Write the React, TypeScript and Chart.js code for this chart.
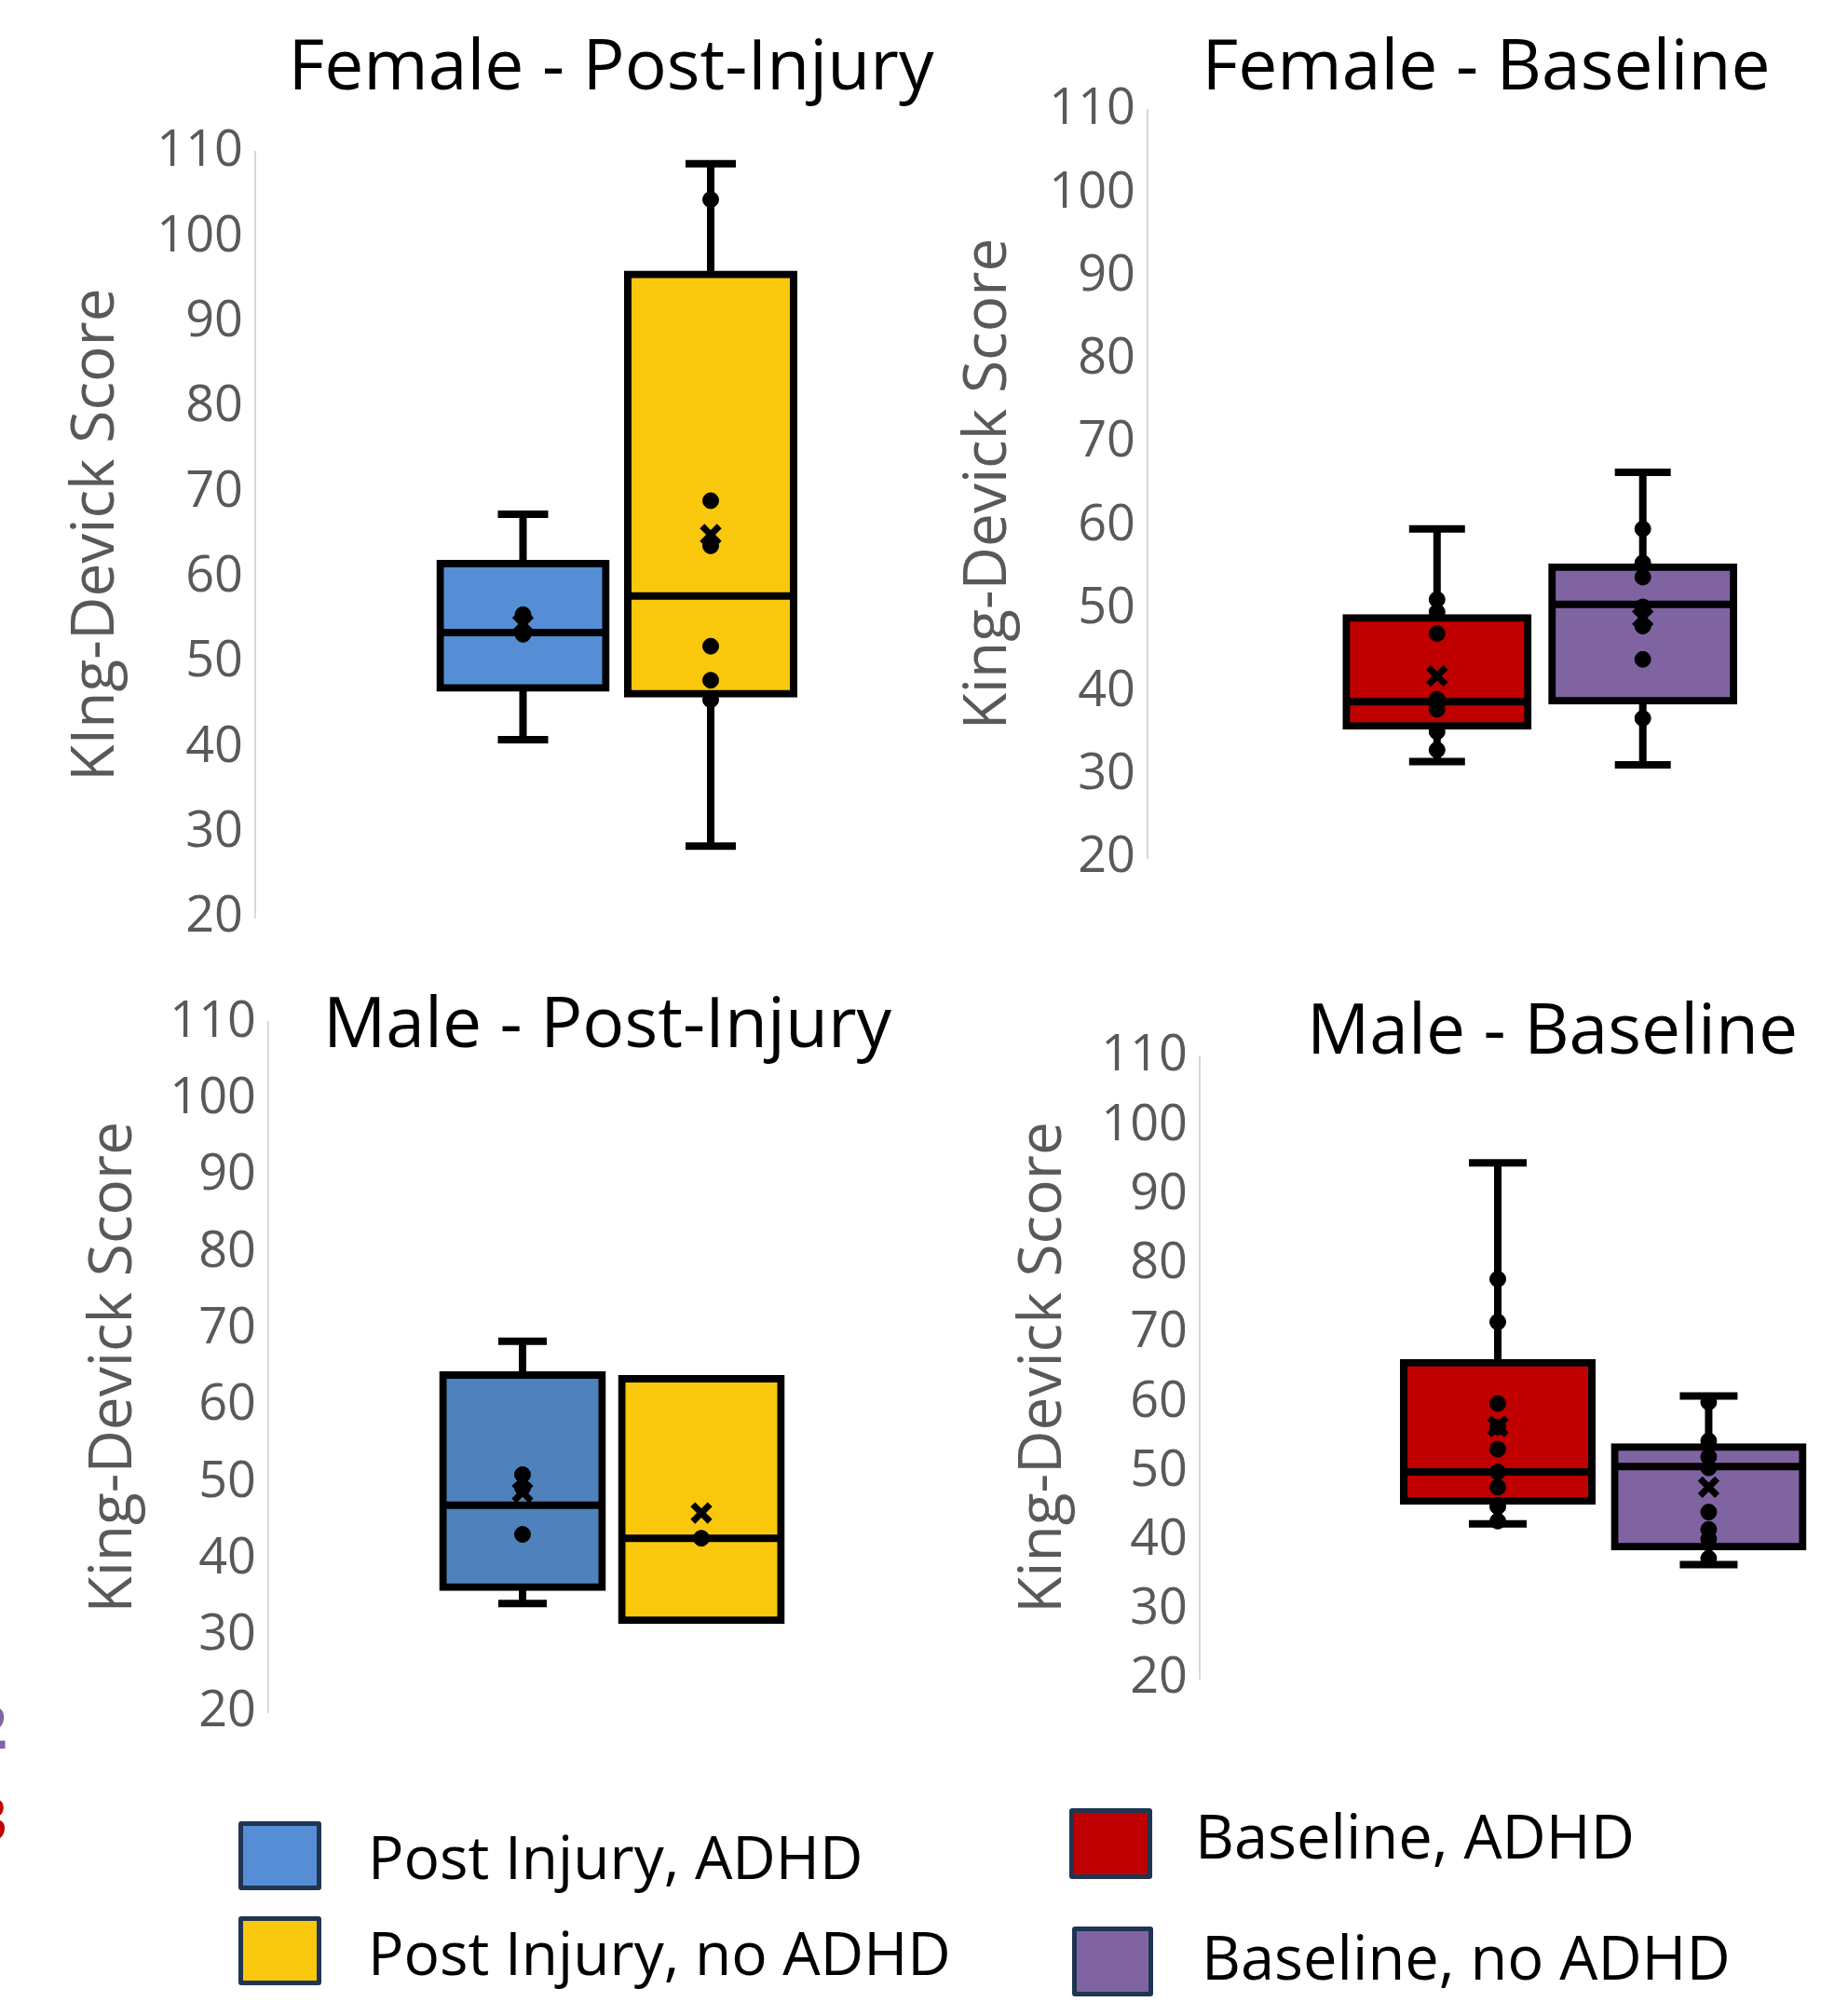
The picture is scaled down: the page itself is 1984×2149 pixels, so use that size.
import React, { useEffect, useRef } from 'react';
import { Chart, registerables } from 'chart.js';

Chart.register(...registerables);

const FONT = "'Open Sans', 'Noto Sans', sans-serif";

// ---- categories (group positions on the hidden linear x axis) ----
const GROUPS = [1, 2];
const GROUP_LABELS = ['ADHD', 'no ADHD'];

// ---- panel titles / axis titles ----
const PANEL_TITLES = ['Female - Post-Injury', 'Female - Baseline', 'Male - Post-Injury', 'Male - Baseline'];
const Y_TITLES = ['KIng-Devick Score', 'King-Devick Score', 'King-Devick Score', 'King-Devick Score'];
const Y_MIN = 20;
const Y_MAX = 110;
const Y_STEP = 10;

// ---- Female - Post-Injury ----
const femalePostQ1 = [47.0, 46.3];
const femalePostMedian = [53.5, 57.8];
const femalePostQ3 = [61.6, 95.6];
const femalePostLow = [40.9, 28.4];
const femalePostHigh = [67.4, 108.6];
const femalePostMean = [54.5, 65.0];
const femalePostPointsAdhd = [55.6, 53.3];
const femalePostPointsNoAdhd = [104.4, 69.0, 63.7, 51.9, 47.9, 45.6];

// ---- Female - Baseline ----
const femaleBaseQ1 = [35.9, 38.9];
const femaleBaseMedian = [38.8, 50.5];
const femaleBaseQ3 = [48.9, 55.0];
const femaleBaseLow = [31.6, 31.2];
const femaleBaseHigh = [59.6, 66.4];
const femaleBaseMean = [41.9, 48.9];
const femaleBasePointsAdhd = [51.1, 49.6, 47.0, 39.1, 37.9, 35.2, 33.0];
const femaleBasePointsNoAdhd = [59.6, 55.5, 53.8, 50.2, 47.9, 43.9, 36.8];

// ---- Male - Post-Injury ----
const malePostQ1 = [36.3, 32.0];
const malePostMedian = [47.0, 42.7];
const malePostQ3 = [64.0, 63.5];
const malePostLow: (number | null)[] = [34.2, null];
const malePostHigh: (number | null)[] = [68.4, null];
const malePostMean = [48.7, 46.0];
const malePostPointsAdhd = [51.0, 49.3, 43.2];
const malePostPointsNoAdhd = [42.7];

// ---- Male - Baseline ----
const maleBaseQ1 = [45.7, 39.1];
const maleBaseMedian = [49.9, 50.7];
const maleBaseQ3 = [65.7, 53.5];
const maleBaseLow = [42.4, 36.5];
const maleBaseHigh = [94.6, 60.9];
const maleBaseMean = [56.5, 47.7];
const maleBasePointsAdhd = [77.8, 71.6, 59.8, 56.4, 53.2, 49.9, 47.7, 44.9, 42.8];
const maleBasePointsNoAdhd = [60.0, 54.4, 52.1, 50.5, 44.1, 41.6, 40.2, 37.4];

// ---- colours ----
const FEMALE_POST_COLORS = ['#558ED5', '#F9C70C'];
const MALE_POST_COLORS = ['#4F81BD', '#F9C70C'];
const BASE_COLORS = ['#C00000', '#8064A2'];

// ---- legend ----
const LEGEND_LABELS = ['Post Injury, ADHD', 'Post Injury, no ADHD', 'Baseline, ADHD', 'Baseline, no ADHD'];
const LEGEND_COLORS = ['#558ED5', '#F9C70C', '#C00000', '#8064A2'];

type Panel = {
  title: string;
  yTitle: string;
  q1: number[];
  median: number[];
  q3: number[];
  low: (number | null)[];
  high: (number | null)[];
  mean: number[];
  points: number[][];
  colors: string[];
  // layout
  left: number;
  top: number;
  width: number;
  height: number;
  yAxisWidth: number;
  xMin: number;
  xMax: number;
  titlePad: { top: number; bottom: number };
  boxWidth: number;
  capHalf: number;
};

const BOTTOM_PAD = 60;
const LINE_W = 8;
const HALF_LINE = LINE_W / 2;

const PANELS: Panel[] = [
  {
    title: PANEL_TITLES[0], yTitle: Y_TITLES[0],
    q1: femalePostQ1, median: femalePostMedian, q3: femalePostQ3, low: femalePostLow, high: femalePostHigh,
    mean: femalePostMean, points: [femalePostPointsAdhd, femalePostPointsNoAdhd], colors: FEMALE_POST_COLORS,
    left: 65, top: 0, width: 973, height: 985 + BOTTOM_PAD, yAxisWidth: 209, xMin: -0.4268, xMax: 3.3648,
    titlePad: { top: 30, bottom: 43 }, boxWidth: 178, capHalf: 27,
  },
  {
    title: PANEL_TITLES[1], yTitle: Y_TITLES[1],
    q1: femaleBaseQ1, median: femaleBaseMedian, q3: femaleBaseQ3, low: femaleBaseLow, high: femaleBaseHigh,
    mean: femaleBaseMean, points: [femaleBasePointsAdhd, femaleBasePointsNoAdhd], colors: BASE_COLORS,
    left: 1023, top: 0, width: 936, height: 921 + BOTTOM_PAD, yAxisWidth: 209, xMin: -0.407, xMax: 2.8841,
    titlePad: { top: 30, bottom: -2 }, boxWidth: 195, capHalf: 30,
  },
  {
    title: PANEL_TITLES[2], yTitle: Y_TITLES[2],
    q1: malePostQ1, median: malePostMedian, q3: malePostQ3, low: malePostLow, high: malePostHigh,
    mean: malePostMean, points: [malePostPointsAdhd, malePostPointsNoAdhd], colors: MALE_POST_COLORS,
    left: 84, top: 1040, width: 932, height: 1838 - 1040 + BOTTOM_PAD, yAxisWidth: 204, xMin: -0.4219, xMax: 3.3698,
    titlePad: { top: 18, bottom: -50.6 }, boxWidth: 171, capHalf: 26,
  },
  {
    title: PANEL_TITLES[3], yTitle: Y_TITLES[3],
    q1: maleBaseQ1, median: maleBaseMedian, q3: maleBaseQ3, low: maleBaseLow, high: maleBaseHigh,
    mean: maleBaseMean, points: [maleBasePointsAdhd, maleBasePointsNoAdhd], colors: BASE_COLORS,
    left: 1082, top: 1040, width: 963, height: 1802 - 1040 + BOTTOM_PAD, yAxisWidth: 206, xMin: -0.4134, xMax: 2.93,
    titlePad: { top: 25, bottom: -21 }, boxWidth: 202, capHalf: 31,
  },
];

function buildConfig(p: Panel): any {
  const datasets: any[] = [];
  GROUPS.forEach((gx, i) => {
    const lo = p.low[i];
    const hi = p.high[i];
    if (lo == null || hi == null) return;
    datasets.push({
      type: 'line',
      label: GROUP_LABELS[i] + ' whisker',
      data: [{ x: gx, y: lo }, { x: gx, y: hi }],
      borderColor: '#000',
      borderWidth: LINE_W,
      pointStyle: 'line',
      pointRadius: p.capHalf,
      pointHoverRadius: p.capHalf,
      pointBorderWidth: LINE_W,
      pointBorderColor: '#000',
      pointBackgroundColor: '#000',
      order: 10,
    });
  });
  datasets.push({
    type: 'bar',
    label: 'box',
    data: GROUPS.map((gx, i) => ({ x: gx, y: [p.q1[i], p.q3[i]] })),
    backgroundColor: p.colors,
    borderColor: '#000',
    borderWidth: LINE_W,
    borderSkipped: false,
    inflateAmount: HALF_LINE,
    barThickness: p.boxWidth,
    order: 8,
  });
  datasets.push({
    type: 'line',
    label: 'median',
    showLine: false,
    data: GROUPS.map((gx, i) => ({ x: gx, y: p.median[i] })),
    pointStyle: 'line',
    pointRadius: p.boxWidth / 2,
    pointHoverRadius: p.boxWidth / 2,
    pointBorderWidth: LINE_W,
    pointBorderColor: '#000',
    order: 6,
  });
  datasets.push({
    type: 'line',
    label: 'points',
    showLine: false,
    data: GROUPS.flatMap((gx, i) => p.points[i].map((v) => ({ x: gx, y: v }))),
    pointStyle: 'circle',
    pointRadius: 8.5,
    pointHoverRadius: 8.5,
    pointBackgroundColor: '#000',
    pointBorderColor: '#000',
    pointBorderWidth: 1,
    order: 4,
  });
  datasets.push({
    type: 'line',
    label: 'mean',
    showLine: false,
    data: GROUPS.map((gx, i) => ({ x: gx, y: p.mean[i] })),
    pointStyle: 'crossRot',
    pointRadius: 13,
    pointHoverRadius: 13,
    pointBorderWidth: 7,
    pointBorderColor: '#000',
    order: 2,
  });

  return {
    type: 'bar',
    data: { datasets },
    options: {
      animation: false,
      responsive: false,
      maintainAspectRatio: false,
      devicePixelRatio: 1,
      events: [],
      layout: { autoPadding: false, padding: { left: 0, right: 0, top: 0, bottom: BOTTOM_PAD } },
      plugins: {
        legend: { display: false },
        tooltip: { enabled: false },
        title: {
          display: true,
          text: p.title,
          fullSize: false,
          align: 'center',
          color: '#000000',
          font: { family: FONT, size: 75, weight: 'normal', lineHeight: 1.2 },
          padding: p.titlePad,
        },
      },
      scales: {
        x: { type: 'linear', display: false, min: p.xMin, max: p.xMax, offset: false, grid: { display: false } },
        y: {
          type: 'linear',
          min: Y_MIN,
          max: Y_MAX,
          stacked: false,
          ticks: {
            stepSize: Y_STEP,
            autoSkip: false,
            color: '#595959',
            font: { family: FONT, size: 54 },
            padding: 13,
          },
          grid: { display: false, drawTicks: false },
          border: { display: true, color: '#D9D9D9', width: 2 },
          title: {
            display: true,
            text: p.yTitle,
            color: '#595959',
            font: { family: FONT, size: 64, weight: 'normal', lineHeight: 1.2 },
            padding: { top: 0, bottom: 0 },
          },
          afterFit: (s: any) => {
            s.width = p.yAxisWidth;
          },
        },
      },
    },
  };
}

function PanelChart({ p }: { p: Panel }) {
  const ref = useRef<HTMLCanvasElement | null>(null);
  useEffect(() => {
    if (!ref.current) return;
    const chart = new Chart(ref.current, buildConfig(p));
    return () => chart.destroy();
  }, [p]);
  return (
    <canvas
      ref={ref}
      width={p.width}
      height={p.height}
      style={{ position: 'absolute', left: p.left, top: p.top, width: p.width, height: p.height }}
    />
  );
}

const LEGEND_ITEMS = [
  { box: { left: 256, top: 1955, width: 89, height: 74 }, text: { left: 395, top: 1961, size: 64 } },
  { box: { left: 256, top: 2057, width: 89, height: 74 }, text: { left: 395, top: 2064, size: 64 } },
  { box: { left: 1148, top: 1941, width: 89, height: 76 }, text: { left: 1283, top: 1938, size: 65 } },
  { box: { left: 1151, top: 2068, width: 87, height: 75 }, text: { left: 1290, top: 2068, size: 65 } },
];

export default function App() {
  useEffect(() => {
    document.body.style.margin = '0';
    document.documentElement.style.overflow = 'hidden';
  }, []);
  return (
    <div
      style={{
        position: 'absolute',
        left: 0,
        top: 0,
        width: 1984,
        height: 2149,
        overflow: 'hidden',
        background: '#ffffff',
        fontFamily: FONT,
      }}
    >
      {PANELS.map((p, i) => (
        <PanelChart key={i} p={p} />
      ))}
      {LEGEND_ITEMS.map((it, i) => (
        <React.Fragment key={i}>
          <div
            style={{
              position: 'absolute',
              left: it.box.left,
              top: it.box.top,
              width: it.box.width,
              height: it.box.height,
              boxSizing: 'border-box',
              border: '5px solid #1F3552',
              borderRadius: 3,
              background: LEGEND_COLORS[i],
            }}
          />
          <div
            style={{
              position: 'absolute',
              left: it.text.left,
              top: it.text.top,
              fontSize: it.text.size,
              lineHeight: it.text.size + 'px',
              whiteSpace: 'nowrap',
              color: '#000',
            }}
          >
            {LEGEND_LABELS[i]}
          </div>
        </React.Fragment>
      ))}
      <div
        style={{
          position: 'absolute',
          left: -29,
          top: 1821,
          fontSize: 64,
          lineHeight: '64px',
          fontWeight: 700,
          color: '#8064A2',
        }}
      >
        2
      </div>
      <div
        style={{
          position: 'absolute',
          left: -29,
          top: 1920,
          fontSize: 64,
          lineHeight: '64px',
          fontWeight: 700,
          color: '#C00000',
        }}
      >
        3
      </div>
    </div>
  );
}
